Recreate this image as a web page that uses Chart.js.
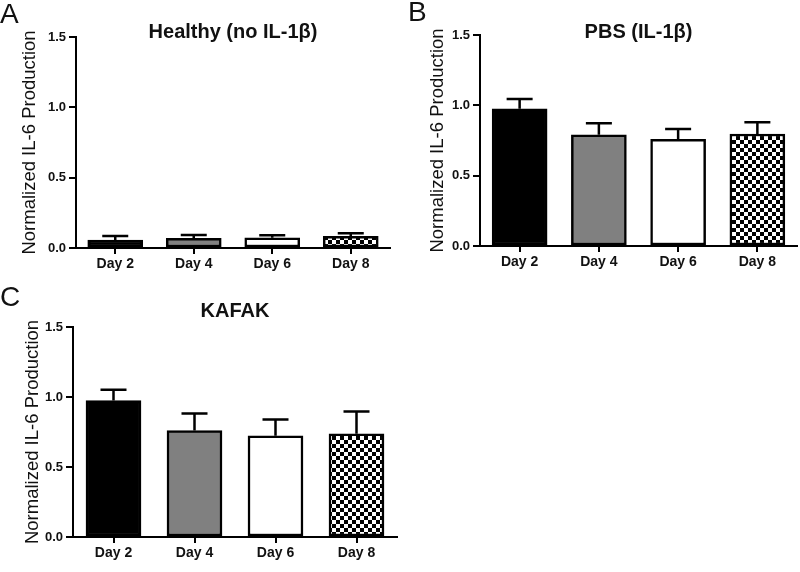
<!DOCTYPE html>
<html>
<head>
<meta charset="utf-8">
<script src="https://cdn.jsdelivr.net/npm/chart.js@4.4.1/dist/chart.umd.min.js"></script>
<style>
body { margin: 0; background: #fff; }
#figura { position: relative; width: 800px; height: 572px; overflow: hidden; font-family: 'Liberation Sans', Arial, sans-serif; }
#figura canvas { position: absolute; }
.letra { position: absolute; font-size: 28px; line-height: 1; color: #111; }
</style>
</head>
<body>
<div id="figura">
  <canvas id="painelA" width="400" height="290" style="left:0px;top:0px"></canvas>
  <canvas id="painelB" width="400" height="290" style="left:400px;top:0px"></canvas>
  <canvas id="painelC" width="400" height="292" style="left:0px;top:280px"></canvas>
  <div class="letra" style="left:0px;top:0px">A</div>
  <div class="letra" style="left:408px;top:-2px">B</div>
  <div class="letra" style="left:0px;top:283px">C</div>
</div>
<script>
var dias = ['Day 2', 'Day 4', 'Day 6', 'Day 8'];
var ticks_y = [0, 0.5, 1.0, 1.5];

var healthy_media = [0.057, 0.069, 0.073, 0.083];
var healthy_erro = [0.028, 0.023, 0.018, 0.021];

var pbs_media = [0.976, 0.791, 0.758, 0.796];
var pbs_erro = [0.069, 0.081, 0.074, 0.083];

var kafak_media = [0.975, 0.761, 0.723, 0.737];
var kafak_erro = [0.076, 0.121, 0.117, 0.160];

Chart.defaults.font.family = "'Liberation Sans', Arial, sans-serif";

function padrao_xadrez() {
    var c = document.createElement('canvas');
    c.width = 8;
    c.height = 8;
    var g = c.getContext('2d');
    g.fillStyle = '#fff';
    g.fillRect(0, 0, 8, 8);
    g.fillStyle = '#000';
    g.fillRect(0, 0, 4, 4);
    g.fillRect(4, 4, 4, 4);
    return g.createPattern(c, 'repeat');
}

var cores_barras = ['#000000', '#808080', '#ffffff', padrao_xadrez()];

// barras de erro (so a metade de cima, como no Prism)
var barras_erro = {
    id: 'barras_erro',
    afterDatasetsDraw: function(chart) {
        var ctx = chart.ctx;
        var ds = chart.data.datasets[0];
        var meta = chart.getDatasetMeta(0);
        var escala = chart.scales.y;
        ctx.save();
        ctx.strokeStyle = '#000';
        ctx.lineWidth = 2.5;
        meta.data.forEach(function(barra, i) {
            var topo = escala.getPixelForValue(ds.data[i] + ds.erros[i]);
            ctx.beginPath();
            ctx.moveTo(barra.x, barra.y);
            ctx.lineTo(barra.x, topo);
            ctx.moveTo(barra.x - 13, topo);
            ctx.lineTo(barra.x + 13, topo);
            ctx.stroke();
        });
        ctx.restore();
    }
};

function criar_painel(id, titulo, medias, erros, geo) {
    var canvas = document.getElementById(id);
    return new Chart(canvas, {
        type: 'bar',
        data: {
            labels: dias,
            datasets: [{
                data: medias,
                erros: erros,
                backgroundColor: cores_barras,
                borderColor: '#000',
                borderWidth: 2.5,
                borderSkipped: false,
                barThickness: 55
            }]
        },
        plugins: [barras_erro],
        options: {
            responsive: false,
            animation: false,
            layout: {
                padding: { left: 0, top: 0, bottom: 0, right: canvas.width - geo.right }
            },
            plugins: {
                legend: { display: false },
                tooltip: { enabled: false },
                title: {
                    display: true,
                    fullSize: false,
                    text: titulo,
                    color: '#111',
                    font: { size: 20, weight: 'bold' },
                    padding: { top: geo.tituloY - 12, bottom: geo.top - geo.tituloY - 12 }
                }
            },
            scales: {
                x: {
                    grid: { drawOnChartArea: false, tickLength: 6, color: '#000', lineWidth: 2, offset: false },
                    border: { color: '#000', width: 2 },
                    ticks: { color: '#111', font: { size: 14, weight: 'bold' }, padding: 2 },
                    afterFit: function(s) { s.height = canvas.height - geo.bottom; }
                },
                y: {
                    min: ticks_y[0],
                    max: ticks_y[ticks_y.length - 1],
                    afterBuildTicks: function(axis) {
                        axis.ticks = ticks_y.map(function(v) { return { value: v }; });
                    },
                    grid: { drawOnChartArea: false, tickLength: 7, color: '#000', lineWidth: 2 },
                    border: { color: '#000', width: 2 },
                    ticks: {
                        color: '#111',
                        font: { size: 13, weight: 'bold' },
                        padding: 3,
                        callback: function(v) { return Number(v).toFixed(1); }
                    },
                    title: {
                        display: true,
                        text: 'Normalized IL-6 Production',
                        color: '#111',
                        font: { size: 18.5 },
                        padding: { top: geo.eixoTituloX - 11.1, bottom: 0 }
                    },
                    afterFit: function(s) { s.width = geo.left; }
                }
            }
        }
    });
}

var grafico_A = criar_painel('painelA', 'Healthy (no IL-1β)', healthy_media, healthy_erro,
    { left: 76, top: 37, right: 390, bottom: 248, tituloY: 32.5, eixoTituloX: 29.5 });

var grafico_B = criar_painel('painelB', 'PBS (IL-1β)', pbs_media, pbs_erro,
    { left: 80, top: 35, right: 397, bottom: 246, tituloY: 32, eixoTituloX: 38 });

var grafico_C = criar_painel('painelC', 'KAFAK', kafak_media, kafak_erro,
    { left: 73, top: 47, right: 397, bottom: 257, tituloY: 31.5, eixoTituloX: 32.5 });
</script>
</body>
</html>
